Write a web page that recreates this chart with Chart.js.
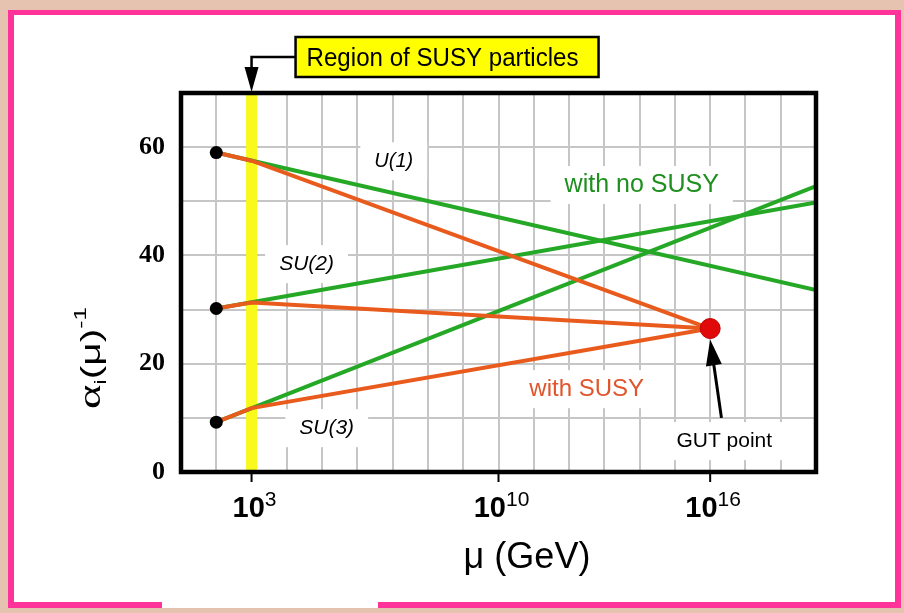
<!DOCTYPE html>
<html>
<head>
<meta charset="utf-8">
<script src="https://cdn.jsdelivr.net/npm/chart.js@4.4.0/dist/chart.umd.min.js"></script>
<style>
html, body { margin: 0; padding: 0; background: #e6c3b1; }
canvas { display: block; }
</style>
</head>
<body>
<canvas id="chart" width="904" height="613"></canvas>
<script>
// x positions are log10(mu / GeV)
const startLog = 2;
const susyLog = 3;
const gutLog = 16;
const endLog = 19;

// inverse couplings without SUSY, at startLog and endLog
const noSusyU1 = [59.0, 33.6];
const noSusySU2 = [30.2, 49.8];
const noSusySU3 = [9.2, 52.8];

// with SUSY, at startLog, susyLog and gutLog
const susyU1 = [59.0, 57.5, 26.5];
const susySU2 = [30.2, 31.3, 26.5];
const susySU3 = [9.2, 11.8, 26.5];

const gutValue = 26.5;

const xTickLabels = [3, 10, 16];
const yTickLabels = [0, 20, 40, 60];

const GREEN = '#25a825';
const ORANGE = '#e95b1d';

// higher order is drawn first (underneath)
function lineSet(xs, ys, color, order) {
    return {
        data: xs.map((x, i) => ({ x: x, y: ys[i] })),
        showLine: true,
        borderColor: color,
        borderWidth: 4,
        pointRadius: 0,
        tension: 0,
        order: order
    };
}

// draw pieces of text (with sub/superscripts) one after another, centred on x
function drawRuns(ctx, parts, x, y) {
    let total = 0;
    parts.forEach(p => { ctx.font = p.font; p.w = ctx.measureText(p.text).width; total += p.w; });
    let cx = x - total / 2;
    ctx.textAlign = 'left';
    ctx.textBaseline = 'alphabetic';
    parts.forEach(p => {
        ctx.font = p.font;
        ctx.fillText(p.text, cx, y + (p.dy || 0));
        cx += p.w;
    });
    return total;
}

const decorations = {
    id: 'decorations',
    beforeDraw(chart) {
        const ctx = chart.ctx;
        ctx.save();
        ctx.fillStyle = '#e6c3b1';
        ctx.fillRect(0, 0, 904, 613);
        ctx.fillStyle = '#ff3399';
        ctx.fillRect(8, 10, 893, 598);
        ctx.fillStyle = '#ffffff';
        ctx.fillRect(14, 15, 881, 587);
        // gap in the pink frame at the bottom
        ctx.fillRect(162, 600, 216, 8);
        ctx.restore();
    },
    beforeDatasetsDraw(chart) {
        const ctx = chart.ctx;
        const xs = chart.scales.x, ys = chart.scales.y;
        const area = chart.chartArea;
        ctx.save();
        // region of SUSY particles band
        const bx = xs.getPixelForValue(susyLog);
        ctx.fillStyle = '#f9f91e';
        ctx.fillRect(bx - 5.5, area.top, 11, area.bottom - area.top);

        // white boxes behind labels
        ctx.fillStyle = '#ffffff';
        labels.forEach(l => {
            ctx.font = l.font;
            const w = ctx.measureText(l.text).width;
            const px = xs.getPixelForValue(l.x), py = ys.getPixelForValue(l.y);
            ctx.fillRect(px - w / 2 - 14, py - 19, w + 28, 38);
        });
        ctx.restore();
    },
    afterDatasetsDraw(chart) {
        const ctx = chart.ctx;
        const xs = chart.scales.x, ys = chart.scales.y;
        const area = chart.chartArea;
        ctx.save();

        // labels inside the plot
        ctx.textAlign = 'center';
        ctx.textBaseline = 'middle';
        labels.forEach(l => {
            ctx.font = l.font;
            ctx.fillStyle = l.color;
            ctx.fillText(l.text, xs.getPixelForValue(l.x), ys.getPixelForValue(l.y));
        });

        // arrow to GUT point
        const hx = xs.getPixelForValue(gutLog), hy = ys.getPixelForValue(gutValue) + 11;
        const tx = xs.getPixelForValue(16.32), ty = ys.getPixelForValue(10.0);
        const ang = Math.atan2(hy - ty, hx - tx);
        ctx.strokeStyle = '#000';
        ctx.fillStyle = '#000';
        ctx.lineWidth = 3;
        ctx.beginPath();
        ctx.moveTo(tx, ty);
        ctx.lineTo(hx - 20 * Math.cos(ang), hy - 20 * Math.sin(ang));
        ctx.stroke();
        ctx.beginPath();
        ctx.moveTo(hx, hy);
        ctx.lineTo(hx - 26 * Math.cos(ang) + 8 * Math.sin(ang), hy - 26 * Math.sin(ang) - 8 * Math.cos(ang));
        ctx.lineTo(hx - 26 * Math.cos(ang) - 8 * Math.sin(ang), hy - 26 * Math.sin(ang) + 8 * Math.cos(ang));
        ctx.closePath();
        ctx.fill();

        // frame
        ctx.lineWidth = 4.5;
        ctx.strokeRect(area.left, area.top, area.right - area.left, area.bottom - area.top);

        // x ticks and labels
        ctx.lineWidth = 2;
        ctx.fillStyle = '#000';
        xTickLabels.forEach(t => {
            const px = xs.getPixelForValue(t);
            ctx.beginPath();
            ctx.moveTo(px, area.bottom);
            ctx.lineTo(px, area.bottom + 10);
            ctx.stroke();
            drawRuns(ctx, [
                { text: '10', font: 'bold 29px "Liberation Sans"' },
                { text: String(t), font: '21px "Liberation Sans"', dy: -11 }
            ], px + 3, area.bottom + 45);
        });

        // x axis title
        ctx.font = '36px "Liberation Sans"';
        ctx.textAlign = 'center';
        ctx.fillText('μ (GeV)', 527, 568);

        // y axis title, stretched along its length
        ctx.save();
        ctx.translate(100, 358);
        ctx.rotate(-Math.PI / 2);
        ctx.scale(1.45, 1);
        drawRuns(ctx, [
            { text: 'α', font: '32px "Liberation Serif"' },
            { text: 'i', font: '17px "Liberation Sans"', dy: 6 },
            { text: '(μ)', font: '28px "Liberation Sans"' },
            { text: '-1', font: '17px "Liberation Sans"', dy: -14 }
        ], 0, 0);
        ctx.restore();

        // region of SUSY particles callout
        const bx = xs.getPixelForValue(susyLog);
        const boxL = bx + 44, boxT = area.top - 56, boxW = 303, boxH = 40;
        ctx.fillStyle = '#ffff00';
        ctx.fillRect(boxL, boxT, boxW, boxH);
        ctx.lineWidth = 2.5;
        ctx.strokeRect(boxL, boxT, boxW, boxH);
        ctx.beginPath();
        ctx.moveTo(boxL, boxT + 20);
        ctx.lineTo(bx, boxT + 20);
        ctx.lineTo(bx, area.top - 24);
        ctx.stroke();
        ctx.fillStyle = '#000';
        ctx.beginPath();
        ctx.moveTo(bx - 7, area.top - 26);
        ctx.lineTo(bx + 7, area.top - 26);
        ctx.lineTo(bx, area.top - 1);
        ctx.closePath();
        ctx.fill();
        ctx.font = '25px "Liberation Sans"';
        ctx.textAlign = 'left';
        ctx.textBaseline = 'alphabetic';
        ctx.fillText('Region of SUSY particles', boxL + 11, boxT + 29, 272);

        ctx.restore();
    }
};

const labels = [
    { text: 'U(1)', x: 7.03, y: 57.4, font: 'italic 20px "Liberation Sans"', color: '#000' },
    { text: 'SU(2)', x: 4.56, y: 38.4, font: 'italic 21px "Liberation Sans"', color: '#000' },
    { text: 'SU(3)', x: 5.13, y: 8.1, font: 'italic 21px "Liberation Sans"', color: '#000' },
    { text: 'with no SUSY', x: 14.06, y: 53.0, font: '25px "Liberation Sans"', color: '#1f8f1f' },
    { text: 'with SUSY', x: 12.5, y: 15.3, font: '24px "Liberation Sans"', color: '#e0552b' },
    { text: 'GUT point', x: 16.4, y: 5.7, font: '21px "Liberation Sans"', color: '#000' }
];

new Chart(document.getElementById('chart'), {
    type: 'scatter',
    data: {
        datasets: [
            lineSet([startLog, endLog], noSusyU1, GREEN, 3),
            lineSet([startLog, endLog], noSusySU2, GREEN, 3),
            lineSet([startLog, endLog], noSusySU3, GREEN, 3),
            lineSet([startLog, susyLog, gutLog], susyU1, ORANGE, 2),
            lineSet([startLog, susyLog, gutLog], susySU2, ORANGE, 2),
            lineSet([startLog, susyLog, gutLog], susySU3, ORANGE, 2),
            {
                data: [
                    { x: startLog, y: noSusyU1[0] },
                    { x: startLog, y: noSusySU2[0] },
                    { x: startLog, y: noSusySU3[0] }
                ],
                pointRadius: 6.5,
                backgroundColor: '#000',
                borderWidth: 0,
                order: 1
            },
            {
                data: [{ x: gutLog, y: gutValue }],
                pointRadius: 10,
                backgroundColor: '#e00a0a',
                borderColor: '#c00000',
                borderWidth: 1,
                order: 0
            }
        ]
    },
    options: {
        responsive: false,
        animation: false,
        events: [],
        layout: {
            padding: { left: 0, top: 93, right: 88, bottom: 0 }
        },
        scales: {
            x: {
                type: 'linear',
                min: 1,
                max: 19,
                ticks: { display: false, stepSize: 1 },
                grid: { color: '#c6c6c6', lineWidth: 2, drawTicks: false },
                border: { display: false },
                afterFit: function (scale) { scale.height = 141; }
            },
            y: {
                min: 0,
                max: 70,
                ticks: {
                    stepSize: 10,
                    autoSkip: false,
                    padding: 16,
                    color: '#000',
                    font: { family: '"Liberation Serif"', size: 26, weight: 'bold' },
                    callback: function (value) {
                        return yTickLabels.includes(value) ? value : '';
                    }
                },
                grid: { color: '#c6c6c6', lineWidth: 2, drawTicks: false },
                border: { display: false },
                afterFit: function (scale) { scale.width = 181; }
            }
        },
        plugins: {
            legend: { display: false },
            tooltip: { enabled: false }
        }
    },
    plugins: [decorations]
});
</script>
</body>
</html>
